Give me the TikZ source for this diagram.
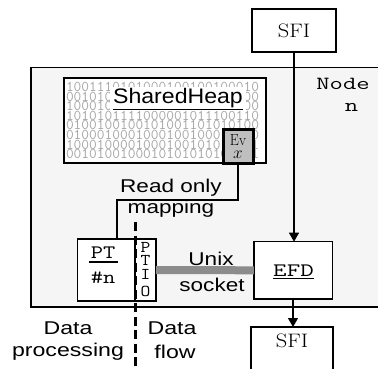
\documentclass[tikz,border=0pt]{standalone}
\usepackage{graphicx}
\usepackage{fontspec}
\newfontfamily\hsans{Liberation Sans}
\usetikzlibrary{arrows.meta}
\newcommand\hstretch[2]{\scalebox{#1}[1]{#2}}
\tikzset{
  boxshape/.style={draw, line width=1.4pt, fill=white, inner sep=0pt, outer sep=0pt},
  txt/.style={inner sep=0pt, outer sep=0pt},
  sanslbl/.style={txt, font=\hsans\fontsize{18.5}{21}\selectfont},
  monolbl/.style={txt, font=\ttfamily\fontsize{19}{19}\selectfont},
  serlbl/.style={txt, font=\fontsize{19.5}{20}\selectfont},
  bits/.style={txt, anchor=west, font=\ttfamily\fontsize{15}{15}\selectfont, text=black!35},
  flow/.style={line width=1.3pt, -{Triangle[length=9pt,width=10pt]}},
  wire/.style={line width=1.3pt},
}
\begin{document}
\begin{tikzpicture}[x=1pt,y=-1pt]
\useasboundingbox (0,0) rectangle (378,368);
\clip (0,0) rectangle (378,368);

% node n enclosure
\draw[line width=1.3pt, fill=black!4] (31,67.5) rectangle (395,307);
\node[txt, font=\ttfamily\fontsize{18.5}{18.5}\selectfont] (nodeA) at (343,84) {\hstretch{1.4}{Node}};
\node[txt, font=\ttfamily\fontsize{18.5}{18.5}\selectfont] (nodeB) at (351.5,107) {\hstretch{1.4}{n}};

% upper SFI
\node[boxshape, minimum width=84pt, minimum height=43pt] (sfitop) at (294,30.5) {};
\node[serlbl] (sfitoplbl) at (sfitop) {\hstretch{1.15}{SFI}};

% shared heap with its memory contents
\node[boxshape, minimum width=202pt, minimum height=85pt] (heap) at (165,120.5) {};
\begin{scope}
\clip (64.7,78.7) rectangle (265.3,162.3);
\foreach \row [count=\i from 0] in {
  1001110101000100100100010,
  0010101001001001001000100,
  1000101010100010000100100,
  1010101111000001011100110,
  0100100100101001101010100,
  0100010001000100100010010,
  1000100001000100101010101,
  0010100100010101010101001}{
  \node[bits] (bit\i) at (66,87+9.6*\i) {\row};
}
\end{scope}
\node[txt, fill=white, inner xsep=3pt, inner ysep=1pt, font=\hsans\fontsize{21}{21}\selectfont]
  (heaplbl) at (178,99) {\hstretch{1.1}{\underline{SharedHeap}}};

% event cell
\node[draw, line width=3pt, fill=black!25, minimum width=30pt, minimum height=34pt, inner sep=0pt] (ev) at (238,146) {};
\node[txt, align=center, font=\fontsize{16}{13}\selectfont] (evlbl) at (238,146.5) {\hstretch{0.9}{Ev}\\$x$};

% processing thread with its I/O part
\node[boxshape, minimum width=57.7pt, minimum height=61.7pt] (pt) at (106.2,270) {};
\node[boxshape, minimum width=21pt, minimum height=61.7pt] (ptio) at (145.5,270) {};
\node[monolbl] (ptA) at (103,252.5) {\hstretch{1.25}{PT}};
\node[monolbl] (ptB) at (103,277.5) {\hstretch{1.25}{\#n}};
\draw[line width=1.2pt] (89,262) -- (118,262);
\node[txt, font=\ttfamily\fontsize{16.5}{16.5}\selectfont] (io1) at (145.5,247) {\hstretch{1.15}{P}};
\node[txt, font=\ttfamily\fontsize{16.5}{16.5}\selectfont] (io2) at (145.5,260) {\hstretch{1.15}{T}};
\node[txt, font=\ttfamily\fontsize{16.5}{16.5}\selectfont] (io3) at (145.5,274.7) {\hstretch{1.15}{I}};
\node[txt, font=\ttfamily\fontsize{16.5}{16.5}\selectfont] (io4) at (145.5,291.7) {\hstretch{1.15}{O}};

% event forwarding daemon
\node[boxshape, minimum width=78.4pt, minimum height=57.3pt] (efd) at (293,270.3) {};
\node[monolbl] (efdlbl) at (293.5,272) {\hstretch{1.38}{\underline{EFD}}};

% lower SFI
\node[boxshape, minimum width=82pt, minimum height=60pt, anchor=north] (sfibot) at (292,327) {};
\node[serlbl] (sfibotlbl) at (292,341) {\hstretch{1.15}{SFI}};

% read only mapping
\coordinate (bend) at (117,200);
\draw[wire] (ev.south) |- (bend) -- (bend |- pt.north);
\node[sanslbl] (ro1) at (171,188) {\hstretch{1.22}{Read only}};
\node[sanslbl] (ro2) at (171,209) {\hstretch{1.22}{mapping}};

% unix socket
\draw[line width=8pt, black!45] (ptio.east) -- (efd.west);
\node[sanslbl] (us1) at (211,259) {\hstretch{1.22}{Unix}};
\node[sanslbl] (us2) at (212,285) {\hstretch{1.22}{socket}};

% SFI links
\draw[flow] (sfitop.south) -- (sfitop.south |- efd.north);
\draw[flow] (efd.south) -- (efd.south |- sfibot.north);

% split between processing and flow
\coordinate (splitA) at (135,222);
\coordinate (splitB) at (135,372);
\draw[line width=3pt, dash pattern=on 9pt off 4.5pt] (splitA) -- (splitB);
\node[sanslbl] (dp1) at (68,328) {\hstretch{1.25}{Data}};
\node[sanslbl] (dp2) at (68,352) {\hstretch{1.25}{processing}};
\node[sanslbl] (df1) at (172,328) {\hstretch{1.25}{Data}};
\node[sanslbl] (df2) at (175,352) {\hstretch{1.25}{flow}};
\end{tikzpicture}
\end{document}
